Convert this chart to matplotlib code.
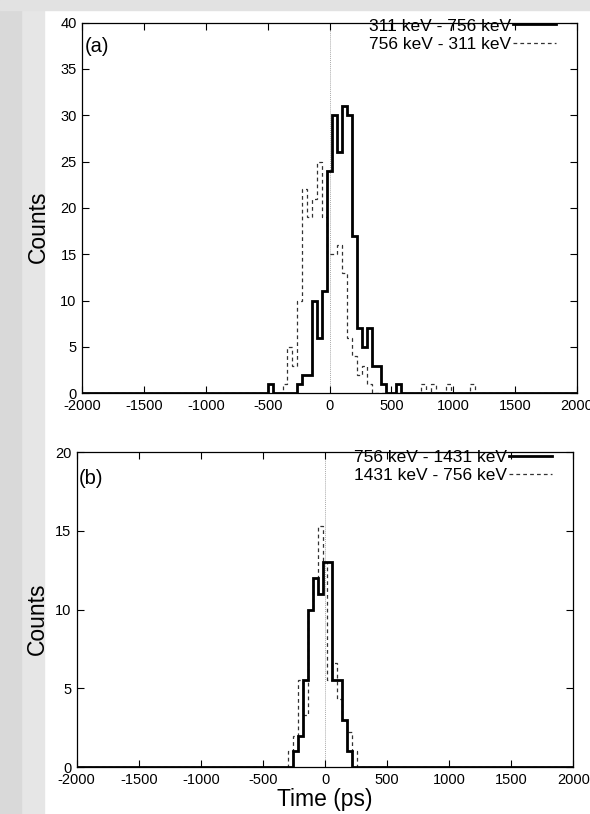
import matplotlib
matplotlib.use('Agg')
import matplotlib.pyplot as plt
import numpy as np

plt.rcParams['font.family'] = ['Liberation Sans', 'DejaVu Sans']
plt.rcParams['axes.unicode_minus'] = False

BIN = 40  # ps per channel

# panel (a): 311 keV - 756 keV (solid) and reverse (dashed)
a_solid_start = -500
a_solid = [1, 0, 0, 0, 0, 0, 1, 2, 2, 10, 6, 11, 24, 30, 26, 31, 30, 17, 7, 5, 7, 3, 3, 1, 0, 0, 1]
a_dash_start = -380
a_dash = [1, 5, 3, 10, 22, 19, 21, 25, 19, 15, 15, 16, 13, 6, 4, 2, 3, 1, 0,
          0, 0, 0, 0, 0, 0, 0, 0, 0, 1, 0, 1, 0, 0, 1, 0, 0, 0, 0, 1]
a_labels = ['311 keV - 756 keV', '756 keV - 311 keV']

# panel (b): 756 keV - 1431 keV (solid) and reverse (dashed)
b_solid_start = -260
b_solid = [1, 2, 5.5, 10, 12, 11, 13, 13, 5.5, 5.5, 3, 1]
b_dash_start = -300
b_dash = [1, 2, 5.5, 3.3, 10, 12, 15.3, 13, 5.5, 6.6, 4.3, 3, 2.2, 1]
b_labels = ['756 keV - 1431 keV', '1431 keV - 756 keV']

x_ticks = [-2000, -1500, -1000, -500, 0, 500, 1000, 1500, 2000]


def full_range(start, counts):
    # pad the channel list with empty channels over the whole time window
    lo = -2020
    hi = 2020
    n_left = (start - lo) // BIN
    n_right = (hi - (start + BIN * len(counts))) // BIN
    vals = np.concatenate([np.zeros(n_left), counts, np.zeros(n_right)])
    edges = lo + BIN * np.arange(len(vals) + 1)
    return vals, edges


def draw_panel(ax, solid, dash, labels, tag, ymax, ystep, ylab_xy, tag_y, leg_y):
    v, e = full_range(*solid)
    ax.stairs(v, e, color='black', lw=2.0, label=labels[0], zorder=3)
    v, e = full_range(*dash)
    ax.stairs(v, e, color='#333333', lw=0.9, ls=(0, (3, 2.5)), label=labels[1], zorder=2)
    ax.axvline(0, color='#aaaaaa', lw=0.7, ls=(0, (1, 1)), zorder=1)
    ax.set_xlim(-2000, 2000)
    ax.set_ylim(0, ymax)
    ax.set_xticks(x_ticks)
    ax.set_yticks(np.arange(0, ymax + 1, ystep))
    ax.tick_params(direction='in', top=True, right=True, length=5, width=0.8,
                   labelsize=10.5, pad=4)
    for s in ax.spines.values():
        s.set_linewidth(0.9)
    ax.set_ylabel('Counts', fontsize=16.5)
    ax.yaxis.set_label_coords(*ylab_xy)
    ax.text(0.004, tag_y, tag, transform=ax.transAxes, fontsize=14.5, va='center')
    ax.legend(loc='upper right', bbox_to_anchor=(0.972, leg_y), frameon=False,
              markerfirst=False, handlelength=2.5, handletextpad=0.1,
              labelspacing=0.2, borderaxespad=0, fontsize=12.5)


fig = plt.figure(figsize=(5.9, 8.14), dpi=100)
fig.patch.set_facecolor('white')
for x0, w, y0, h, c in [(0, 0.075, 0, 1, '#e6e6e6'), (0, 0.035, 0, 1, '#d9d9d9'),
                        (0, 1, 0.988, 0.012, '#e2e2e2')]:
    r = plt.Rectangle((x0, y0), w, h, transform=fig.transFigure, color=c, zorder=-10)
    fig.add_artist(r)

ax1 = fig.add_axes([0.1395, 0.5168, 0.838, 0.4555])
draw_panel(ax1, (a_solid_start, a_solid), (a_dash_start, a_dash), a_labels, '(a)',
           40, 5, (-0.066, 0.45), 0.935, 1.03)

ax2 = fig.add_axes([0.130, 0.0577, 0.8417, 0.387])
draw_panel(ax2, (b_solid_start, b_solid), (b_dash_start, b_dash), b_labels, '(b)',
           20, 5, (-0.056, 0.47), 0.915, 1.03)
ax2.set_xlabel('Time (ps)', fontsize=16.5, labelpad=1)

fig.savefig('out.png', dpi=100)
